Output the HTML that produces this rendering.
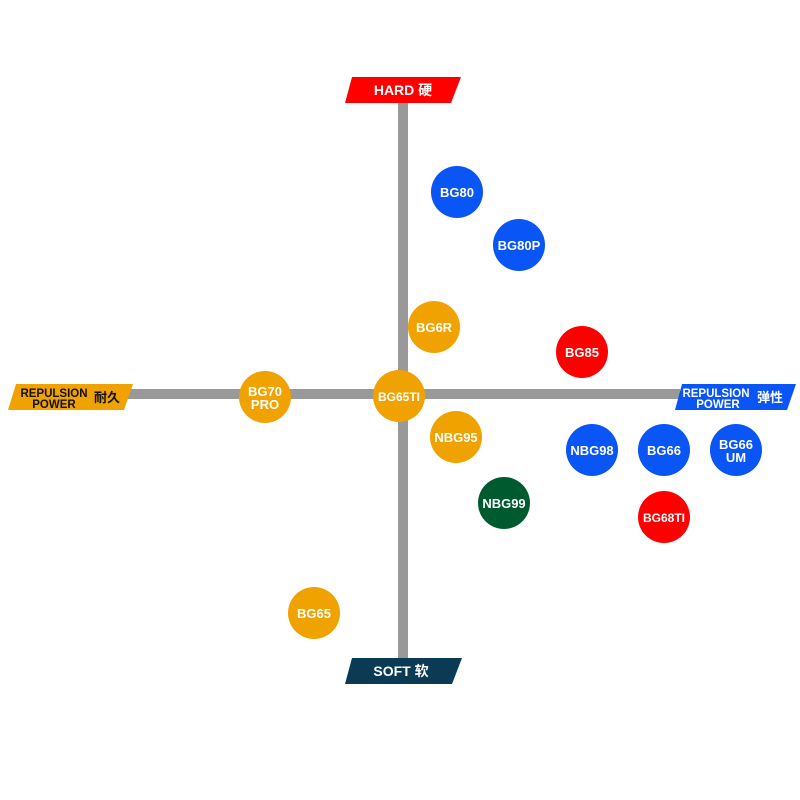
<!DOCTYPE html>
<html><head><meta charset="utf-8"><style>
html,body{margin:0;padding:0;background:#fff;}
svg{display:block;}
text{font-family:"Liberation Sans","Noto Sans CJK SC",sans-serif;font-weight:bold;fill:#fff;text-anchor:middle;}
</style></head><body>
<svg width="800" height="800" viewBox="0 0 800 800">
<rect x="128" y="389" width="552" height="10" fill="#999"/>
<rect x="398" y="100" width="10" height="560" fill="#999"/>
<polygon points="352,77 461,77 451,103 345,103" fill="#ff0000"/>
<text x="403" y="95" font-size="14">HARD 硬</text>
<polygon points="352,658 462,658 452,684 345,684" fill="#0b3a54"/>
<text x="401" y="676" font-size="14">SOFT 软</text>
<polygon points="16,384 133,384 124,410 8,410" fill="#f0a200"/>
<text x="54" y="397" font-size="11.5" style="fill:#111">REPULSION</text>
<text x="54" y="408" font-size="11.5" style="fill:#111">POWER</text>
<text x="107" y="402" font-size="13" style="fill:#111">耐久</text>
<polygon points="682,384 796,384 787,410 675,410" fill="#0a55f5"/>
<text x="716" y="397" font-size="11.5">REPULSION</text>
<text x="718" y="408" font-size="11.5">POWER</text>
<text x="770" y="402" font-size="13">弹性</text>
<g font-size="13">
<circle cx="457" cy="192" r="26" fill="#0a55f5"/><text x="457" y="197">BG80</text>
<circle cx="519" cy="245" r="26" fill="#0a55f5"/><text x="519" y="250">BG80P</text>
<circle cx="434" cy="327" r="26" fill="#f0a200"/><text x="434" y="332">BG6R</text>
<circle cx="582" cy="352" r="26" fill="#ff0000"/><text x="582" y="357">BG85</text>
<circle cx="265" cy="397" r="26" fill="#f0a200"/><text x="265" y="396">BG70</text><text x="265" y="409">PRO</text>
<circle cx="399" cy="396" r="26" fill="#f0a200"/><text x="399" y="401" font-size="12">BG65TI</text>
<circle cx="456" cy="437" r="26" fill="#f0a200"/><text x="456" y="442">NBG95</text>
<circle cx="592" cy="450" r="26" fill="#0a55f5"/><text x="592" y="455">NBG98</text>
<circle cx="664" cy="450" r="26" fill="#0a55f5"/><text x="664" y="455">BG66</text>
<circle cx="736" cy="450" r="26" fill="#0a55f5"/><text x="736" y="449">BG66</text><text x="736" y="462">UM</text>
<circle cx="504" cy="503" r="26" fill="#005a30"/><text x="504" y="508">NBG99</text>
<circle cx="664" cy="517" r="26" fill="#ff0000"/><text x="664" y="522" font-size="12">BG68TI</text>
<circle cx="314" cy="613" r="26" fill="#f0a200"/><text x="314" y="618">BG65</text>
</g>
</svg>
</body></html>
